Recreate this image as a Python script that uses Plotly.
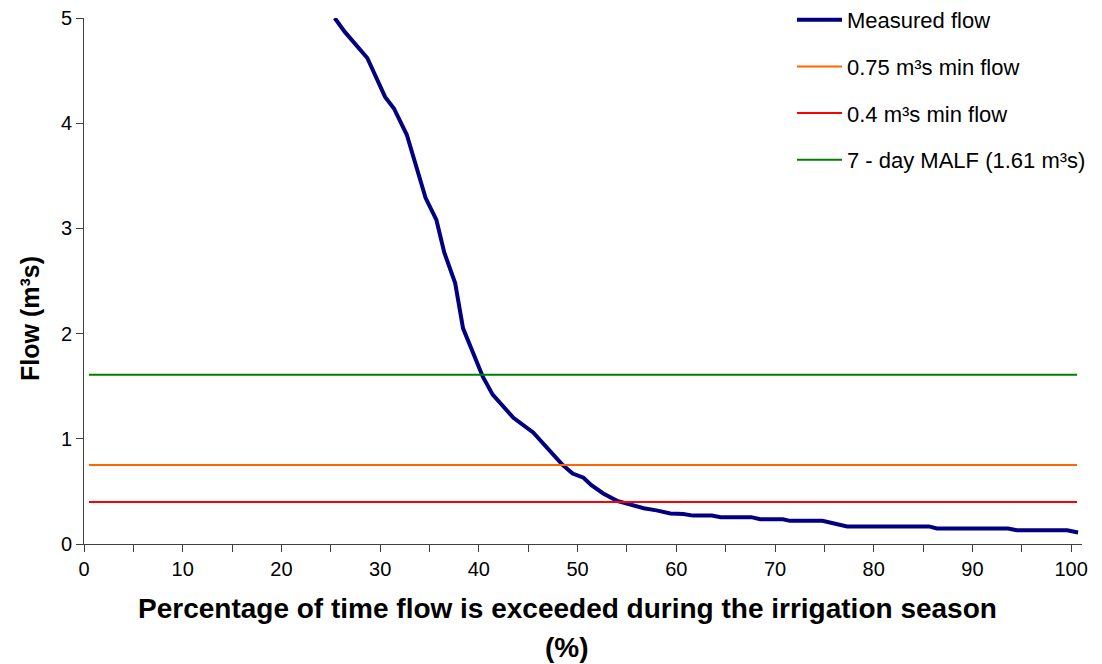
import plotly.graph_objects as go

# Flow duration curve
pct_exceeded = [25.4, 26.4, 28.7, 30.5, 31.4, 32.7, 34.6, 35.7, 36.5, 37.6, 38.4, 39.4,
                40.4, 41.4, 43.5, 45.5, 46.9, 48.5, 49.5, 50.6, 51.4, 52.6, 54.0, 55.3,
                56.7, 58.0, 59.4, 60.7, 61.7, 62.4, 63.6, 64.5, 67.6, 68.5, 70.8, 71.5,
                74.8, 77.3, 85.6, 86.4, 93.6, 94.5, 99.6, 100.7]
measured_flow = [5.0, 4.87, 4.62, 4.25, 4.14, 3.89, 3.29, 3.08, 2.77, 2.48, 2.05, 1.82,
                 1.59, 1.42, 1.20, 1.06, 0.92, 0.75, 0.67, 0.63, 0.56, 0.48, 0.41, 0.38,
                 0.34, 0.32, 0.29, 0.285, 0.27, 0.27, 0.27, 0.255, 0.255, 0.235, 0.235, 0.22,
                 0.22, 0.167, 0.167, 0.148, 0.148, 0.13, 0.13, 0.11]

ref_x = [0.5, 100.6]
min_flow_075 = [0.75, 0.75]
min_flow_04 = [0.4, 0.4]
malf_7day = [1.61, 1.61]

names = ["Measured flow", "0.75 m³s min flow", "0.4 m³s min flow", "7 - day MALF (1.61 m³s)"]
x_ticks = [0, 10, 20, 30, 40, 50, 60, 70, 80, 90, 100]
y_ticks = [0, 1, 2, 3, 4, 5]

FONT = "Liberation Sans, Arial, sans-serif"

fig = go.Figure()
fig.add_trace(go.Scatter(x=pct_exceeded, y=measured_flow, mode="lines", name=names[0],
                         line=dict(color="#000080", width=4), legendgroup="a"))
fig.add_trace(go.Scatter(x=ref_x, y=min_flow_075, mode="lines", name=names[1],
                         line=dict(color="#FF6600", width=2), legendgroup="b"))
fig.add_trace(go.Scatter(x=ref_x, y=min_flow_04, mode="lines", name=names[2],
                         line=dict(color="#FF0000", width=2), legendgroup="c"))
fig.add_trace(go.Scatter(x=ref_x, y=malf_7day, mode="lines", name=names[3],
                         line=dict(color="#008000", width=2), legendgroup="d"))

axis_common = dict(showline=True, linecolor="#404040", linewidth=1, ticks="outside",
                   ticklen=7, tickcolor="#404040", showgrid=False, zeroline=False,
                   ticklabeloverflow="allow",
                   tickfont=dict(family=FONT, size=20, color="black"))

fig.update_xaxes(range=[0, 101.1], tickvals=x_ticks,
                 minor=dict(dtick=5, tick0=0, ticks="outside", ticklen=7, tickcolor="#404040"),
                 **axis_common)
fig.update_yaxes(range=[0, 5], tickvals=y_ticks, **axis_common)

# The page body adds an 8 px offset; the figure is sized to compensate.
PW, PH = 998, 526
fig.add_annotation(text="<b>Percentage of time flow is exceeded during the irrigation season</b>",
                   x=(567 - 84) / PW, y=-(608 - 544) / PH, xref="paper", yref="paper",
                   showarrow=False, xanchor="center", yanchor="middle",
                   font=dict(family=FONT, size=28, color="black"))
fig.add_annotation(text="<b>(%)</b>",
                   x=(567 - 84) / PW, y=-(647 - 544) / PH, xref="paper", yref="paper",
                   showarrow=False, xanchor="center", yanchor="middle",
                   font=dict(family=FONT, size=28, color="black"))
fig.add_annotation(text="<b>Flow (m³s)</b>",
                   x=-(84 - 30) / PW, y=(544 - 319) / PH, xref="paper", yref="paper",
                   showarrow=False, xanchor="center", yanchor="middle", textangle=-90,
                   font=dict(family=FONT, size=25, color="black"))

fig.update_layout(
    width=1094, height=656,
    margin=dict(l=76, r=20, t=10, b=120, autoexpand=False),
    paper_bgcolor="white", plot_bgcolor="white",
    font=dict(family=FONT, color="black"),
    legend=dict(x=(792 - 84) / PW, y=1.036, xanchor="left", yanchor="top",
                font=dict(family=FONT, size=22, color="black"),
                bgcolor="rgba(0,0,0,0)", traceorder="grouped", tracegroupgap=15,
                itemwidth=45),
)

fig.write_html("out.html")
